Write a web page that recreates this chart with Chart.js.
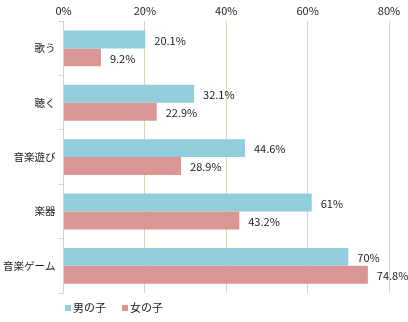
<!DOCTYPE html>
<html lang="ja">
<head>
<meta charset="UTF-8">
<title>音楽の好み</title>
<script src="https://cdn.jsdelivr.net/npm/chart.js"></script>
<style>
    html, body { margin: 0; padding: 0; background: #fff; }
    #wrap { width: 408px; height: 322px; position: relative; }
</style>
</head>
<body>
<div id="wrap"><canvas id="chart"></canvas></div>
<script>
    const categories = ['歌う', '聴く', '音楽遊び', '楽器', '音楽ゲーム'];
    const boys = [20.1, 32.1, 44.6, 61, 70];
    const girls = [9.2, 22.9, 28.9, 43.2, 74.8];
    const seriesNames = ['男の子', '女の子'];
    const xTicks = [0, 20, 40, 60, 80];

    const FONT = '"Noto Sans CJK JP", "DejaVu Sans", sans-serif';
    const TEXT = '#1a1a1a';
    const GRID = '#d9d4bc';
    const colors = ['#92cddc', '#d99694'];

    // value labels to the right of each bar
    const valueLabels = {
        id: 'valueLabels',
        afterDatasetsDraw(chart) {
            const ctx = chart.ctx;
            ctx.save();
            ctx.font = '11px ' + FONT;
            ctx.fillStyle = TEXT;
            ctx.textBaseline = 'middle';
            ctx.textAlign = 'left';
            chart.data.datasets.forEach((ds, i) => {
                chart.getDatasetMeta(i).data.forEach((bar, j) => {
                    ctx.fillText(ds.data[j] + '%', bar.x + 9, bar.y + 1);
                });
            });
            ctx.restore();
        }
    };

    // small square legend under the plot
    const bottomLegend = {
        id: 'bottomLegend',
        afterDraw(chart) {
            const ctx = chart.ctx;
            ctx.save();
            ctx.font = '11px ' + FONT;
            ctx.textBaseline = 'middle';
            let x = 65;
            const y = 308;
            seriesNames.forEach((name, i) => {
                ctx.fillStyle = colors[i];
                ctx.fillRect(x, y - 3, 6, 6);
                ctx.fillStyle = TEXT;
                ctx.fillText(name, x + 8, y);
                x += 8 + ctx.measureText(name).width + 16;
            });
            ctx.restore();
        }
    };

    new Chart(document.getElementById('chart'), {
        type: 'bar',
        data: {
            labels: categories,
            datasets: [
                { label: seriesNames[0], data: boys, backgroundColor: colors[0] },
                { label: seriesNames[1], data: girls, backgroundColor: colors[1] }
            ]
        },
        options: {
            indexAxis: 'y',
            responsive: true,
            maintainAspectRatio: false,
            animation: false,
            layout: { padding: { top: 0, right: 19, bottom: 29, left: 0 } },
            datasets: { bar: { categoryPercentage: 0.66, barPercentage: 1 } },
            scales: {
                x: {
                    position: 'top',
                    min: 0,
                    max: 80,
                    afterBuildTicks(axis) {
                        axis.ticks = xTicks.map(v => ({ value: v }));
                    },
                    ticks: {
                        callback: v => v + '%',
                        color: TEXT,
                        font: { family: FONT, size: 11 },
                        padding: 4
                    },
                    grid: { color: GRID, drawTicks: false },
                    border: { display: false }
                },
                y: {
                    ticks: {
                        color: TEXT,
                        font: { family: FONT, size: 10.5 },
                        padding: 3
                    },
                    grid: { color: GRID, drawOnChartArea: false, tickLength: 5 },
                    border: { color: GRID }
                }
            },
            plugins: {
                legend: { display: false },
                tooltip: { enabled: false }
            }
        },
        plugins: [valueLabels, bottomLegend]
    });
</script>
</body>
</html>
